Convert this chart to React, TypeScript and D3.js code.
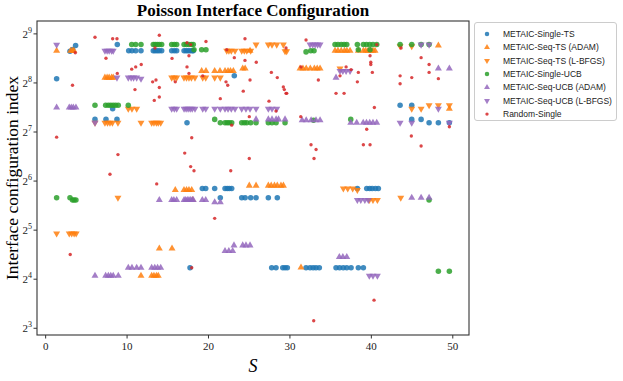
import React from "react";
import * as d3 from "d3";

type Pt = [number, number];

// [S, interface configuration index]
const singleTS: Pt[] = [
  [2.99, 401], [3.31, 410], [3.68, 434], [8.8, 440],
  [10.2, 404], [10.6, 404], [11.06, 404], [11.71, 404], [13.22, 404], [13.45, 404], [13.7, 404], [13.95, 404], [14.25, 404],
  [15.48, 404], [15.8, 404], [16.09, 404], [17.0, 404], [17.25, 404], [17.5, 404], [17.75, 404], [18.0, 404], [18.13, 404],
  [1.35, 272], [23.17, 283], [8.23, 178],
  [6.06, 153], [7.41, 153], [8.76, 153], [17.36, 146],
  [43.53, 187], [44.96, 187], [44.96, 153], [46.11, 153], [47.09, 146], [48.23, 146], [49.58, 146],
  [19.24, 57.7], [19.66, 57.7], [20.76, 57.7], [22.03, 57.7], [22.3, 57.7], [22.55, 57.7], [22.85, 57.7],
  [21.45, 50.6], [24.08, 50.6], [24.5, 50.6], [25.18, 50.6], [25.84, 50.6], [27.35, 50.6], [28.45, 50.6],
  [38.28, 57.7], [39.43, 57.7], [39.8, 57.7], [40.1, 57.7], [40.5, 57.7], [40.86, 57.7],
  [17.73, 18.8], [27.76, 18.8], [28.29, 18.8], [29.12, 18.8], [29.4, 18.8], [29.68, 18.8], [31.98, 18.8], [32.47, 18.8],
  [32.85, 18.8], [33.2, 18.8], [33.61, 18.8], [35.66, 18.8], [36.1, 18.8], [36.55, 18.8], [36.98, 18.8], [37.51, 18.8],
  [38.4, 18.8], [39.02, 18.8],
];

const seqTSAdam: Pt[] = [
  [1.35, 404], [3.07, 404], [3.3, 404], [3.48, 404],
  [7.28, 276], [7.55, 276], [7.8, 276], [8.1, 276], [8.3, 276],
  [19.16, 303], [19.69, 303], [20.76, 303], [21.41, 303], [22.03, 303], [22.4, 303], [22.7, 303], [23.05, 303], [24.2, 314], [24.5, 314],
  [31.24, 314], [31.6, 314], [32.0, 314], [32.5, 314], [33.0, 314], [33.35, 314], [33.7, 314],
  [25.1, 404], [35.54, 404], [35.9, 404], [36.3, 404], [36.7, 404], [37.0, 404], [37.38, 404], [38.4, 404], [39.02, 404],
  [39.3, 404], [39.6, 404], [39.9, 404], [40.2, 404], [40.45, 404], [48.23, 434],
  [25.01, 60], [25.84, 60], [27.35, 60], [27.7, 60], [28.1, 60], [28.45, 60], [28.9, 60], [29.2, 60],
  [15.92, 56.5], [16.99, 56.5], [17.3, 56.5], [17.6, 56.5], [17.94, 56.5], [18.06, 49],
  [13.96, 24.7], [15.52, 24.7],
  [11.71, 16.8], [13.02, 16.8], [13.3, 16.8], [13.6, 16.8], [13.83, 16.8],
  [31.36, 18.9], [49.58, 178],
];

const seqTSLbfgs: Pt[] = [
  [1.35, 30.5], [2.9, 30.5], [3.2, 30.5], [3.5, 30.5], [3.75, 30.5],
  [6.06, 146], [7.28, 146], [7.6, 146], [7.9, 146], [8.2, 146], [8.88, 146], [11.71, 146],
  [13.02, 146], [13.3, 146], [13.6, 146], [13.83, 146], [14.13, 146],
  [8.88, 50.6],
  [22.24, 404], [22.5, 404], [22.8, 404], [23.26, 404], [24.08, 404], [24.4, 404], [24.7, 404], [25.18, 404],
  [25.84, 440], [27.35, 440], [27.8, 440], [28.38, 440], [29.19, 440], [29.4, 401], [29.6, 401],
  [15.48, 276], [15.8, 276], [16.09, 276], [16.99, 276], [17.3, 276], [17.6, 276], [17.9, 276], [18.34, 276],
  [19.29, 276], [19.66, 276], [20.76, 276], [21.45, 276],
  [10.15, 178], [10.6, 178], [11.18, 178],
  [36.15, 314], [43.53, 430], [44.96, 430],
  [44.96, 178], [46.11, 178], [47.09, 187], [48.23, 187], [49.58, 187],
  [36.56, 57.7], [37.1, 57.7], [37.71, 57.7], [38.28, 56.5], [39.75, 49], [40.2, 49], [40.74, 49], [43.61, 50.6],
];

const singleUCB: Pt[] = [
  [1.35, 50.6], [2.99, 50.6], [3.3, 49], [3.5, 49], [3.72, 49],
  [6.06, 187], [7.37, 187], [7.7, 187], [8.0, 187], [8.3, 187], [8.6, 187], [8.92, 187], [10.15, 187],
  [10.57, 440], [11.06, 440], [11.71, 440], [13.22, 440], [13.45, 440], [13.7, 440], [13.95, 440], [14.25, 440],
  [15.48, 440], [15.8, 440], [16.09, 440], [17.0, 440], [17.3, 440], [17.6, 440], [17.9, 440], [18.13, 440],
  [18.22, 409], [19.16, 409], [19.69, 409],
  [20.76, 153], [21.45, 146], [22.03, 146], [22.3, 146], [22.55, 146], [22.85, 146], [24.08, 146], [24.4, 146],
  [24.7, 146], [25.18, 146], [25.84, 146], [27.35, 146], [27.8, 146], [28.3, 146], [29.4, 146], [32.9, 151], [37.47, 153],
  [31.98, 397], [32.56, 404], [32.96, 404],
  [35.54, 440], [35.9, 440], [36.3, 440], [36.65, 440], [36.98, 440], [38.28, 440], [39.02, 440], [39.4, 440],
  [39.8, 440], [40.2, 440], [40.66, 440], [38.4, 409], [39.84, 409],
  [43.53, 440], [44.96, 440], [46.11, 440], [47.09, 440],
  [47.09, 49], [48.23, 17.9], [49.58, 17.9],
];

const seqUCBAdam: Pt[] = [
  [1.35, 181], [2.9, 181], [3.15, 181], [3.4, 181], [3.72, 181],
  [6.06, 16.8], [7.37, 16.8], [7.7, 16.8], [8.0, 16.8], [8.3, 16.8], [8.92, 16.8],
  [10.15, 18.8], [10.6, 18.8], [11.18, 18.8], [11.71, 18.8], [13.02, 18.8], [13.4, 18.8], [13.75, 18.8], [14.13, 18.8],
  [13.96, 49], [15.48, 49], [15.75, 49], [16.09, 49], [17.0, 49], [17.2, 49], [17.4, 49], [17.6, 49], [17.8, 49],
  [18.0, 49], [18.13, 49], [19.24, 49], [19.66, 49], [20.76, 47.5], [21.45, 47.5],
  [22.03, 23.8], [22.5, 23.8], [22.97, 23.8], [23.13, 25.8], [24.2, 25.8], [24.6, 25.8], [25.1, 25.8],
  [36.07, 21.9], [36.5, 21.9], [36.98, 21.9],
  [48.23, 314], [49.58, 314], [35.66, 276],
  [25.84, 153], [27.35, 153], [27.8, 153], [28.3, 153], [28.6, 153], [29.4, 153],
  [31.5, 151], [32.0, 151], [32.6, 151], [33.2, 151], [33.7, 151],
  [37.47, 146], [38.2, 146], [39.0, 146], [39.4, 146], [39.8, 146], [40.2, 146], [40.66, 146],
  [44.96, 50.6], [46.11, 50.6], [47.09, 50.6],
];

const seqUCBLbfgs: Pt[] = [
  [1.35, 439],
  [7.28, 404], [7.55, 404], [7.8, 404], [8.1, 404], [8.3, 404],
  [8.76, 276], [10.15, 276], [10.5, 276], [10.8, 276], [11.18, 276], [11.71, 272],
  [6.06, 146],
  [15.48, 178], [15.8, 178], [16.09, 178], [17.0, 178], [17.25, 178], [17.5, 178], [17.75, 178], [18.0, 178], [18.34, 178],
  [19.29, 178], [19.66, 178], [20.76, 178], [21.45, 178], [22.03, 178], [22.4, 178], [22.8, 178], [23.26, 178],
  [24.08, 178], [24.6, 178], [25.1, 178], [25.84, 178], [27.35, 178], [27.8, 178], [28.38, 178],
  [32.47, 440], [32.8, 440], [33.1, 440], [33.4, 440], [33.7, 440],
  [36.15, 303], [36.5, 303], [36.9, 303], [37.38, 303],
  [46.11, 440], [47.09, 440],
  [48.23, 178], [43.53, 146], [44.96, 146], [49.58, 146],
  [38.28, 49], [38.7, 49], [39.2, 49], [39.63, 49],
  [39.75, 16.8], [40.2, 16.8], [40.74, 16.8],
];

const randomSingle: Pt[] = [
  [1.35, 119], [3.02, 22.7], [3.3, 248], [3.64, 392], [6.06, 488], [7.41, 363], [7.9, 70.5], [8.23, 478], [8.76, 478],
  [8.8, 293], [8.88, 93], [10.57, 311], [11.06, 321], [11.74, 332], [10.97, 233], [13.96, 502], [13.43, 419],
  [13.14, 260], [13.55, 267], [13.96, 240], [13.96, 210], [13.34, 200], [13.64, 61.5], [15.52, 362], [15.92, 260],
  [17.36, 452], [17.81, 440], [17.6, 376], [17.36, 321], [17.6, 293], [17.94, 118], [17.08, 95], [17.81, 78.5],
  [18.22, 74], [17.94, 18.8], [19.69, 460], [19.29, 283], [20.76, 37.8], [21.45, 205], [22.15, 260], [22.36, 248],
  [22.24, 409], [23.17, 366], [22.85, 141], [22.73, 74], [24.48, 478], [24.48, 352], [24.27, 228], [25.1, 267],
  [25.01, 159], [25.01, 88], [25.87, 343], [27.43, 198], [27.72, 297], [28.45, 276], [28.29, 172], [29.52, 419],
  [29.19, 242], [29.31, 233], [29.52, 221], [29.61, 221], [31.33, 159], [31.36, 321], [31.98, 470], [32.59, 107],
  [33.21, 100], [32.96, 88], [32.92, 8.9], [33.49, 267], [35.66, 221], [36.65, 221], [36.15, 283], [36.9, 321],
  [37.51, 309], [38.28, 260], [38.4, 297], [39.02, 107], [39.84, 107], [39.43, 133], [39.84, 376], [39.93, 343],
  [39.93, 332], [40.12, 297], [40.66, 440], [40.37, 181], [40.33, 11.9], [43.53, 283], [43.53, 253], [43.65, 419],
  [44.96, 276], [44.91, 121], [46.11, 366], [46.11, 105], [47.09, 332], [47.09, 297], [48.23, 272], [49.58, 138],
];

const seriesNames = [
  "METAIC-Single-TS",
  "METAIC-Seq-TS (ADAM)",
  "METAIC-Seq-TS (L-BFGS)",
  "METAIC-Single-UCB",
  "METAIC-Seq-UCB (ADAM)",
  "METAIC-Seq-UCB (L-BFGS)",
  "Random-Single",
];
const seriesData = [singleTS, seqTSAdam, seqTSLbfgs, singleUCB, seqUCBAdam, seqUCBLbfgs, randomSingle];
const seriesColors = ["#1f77b4", "#ff7f0e", "#ff7f0e", "#2ca02c", "#9467bd", "#9467bd", "#d62728"];
const seriesShapes = ["o", "^", "v", "o", "^", "v", "."];

const xTicks = [0, 10, 20, 30, 40, 50];
const yTickExps = [3, 4, 5, 6, 7, 8, 9];

const W = 623, H = 381;
const m = { left: 37, right: 469, top: 21, bottom: 335 };

const serif = "'Liberation Serif', 'Times New Roman', serif";
const sans = "'Liberation Sans', Arial, sans-serif";

const circlePath = d3.symbol().type(d3.symbolCircle).size(24)()!;
const triPath = d3.symbol().type(d3.symbolTriangle).size(21)()!;
const dotPath = d3.symbol().type(d3.symbolCircle).size(9)()!;
const legCircle = d3.symbol().type(d3.symbolCircle).size(16)()!;
const legTri = d3.symbol().type(d3.symbolTriangle).size(15)()!;

function marker(shape: string, color: string, x: number, y: number, key: any, small = false) {
  const path = shape === "o" ? (small ? legCircle : circlePath) : shape === "." ? dotPath : small ? legTri : triPath;
  const rot = shape === "v" ? " rotate(180)" : "";
  return <path key={key} d={path} transform={`translate(${x},${y})${rot}`} fill={color} fillOpacity={0.85} />;
}

export default function App() {
  const all = seriesData.flat();
  const [sx0, sx1] = d3.extent(all, (d) => d[0]) as [number, number];
  const xp = (sx1 - sx0) * 0.05;
  const x = d3.scaleLinear().domain([sx0 - xp, sx1 + xp]).range([m.left, m.right]);

  const [ly0, ly1] = d3.extent(all, (d) => Math.log2(d[1])) as [number, number];
  const yp = (ly1 - ly0) * 0.05;
  const y = d3.scaleLog().base(2).domain([2 ** (ly0 - yp), 2 ** (ly1 + yp)]).range([m.bottom, m.top]);

  return (
    <svg width={W} height={H} style={{ position: "absolute", left: 0, top: 0, background: "#fff" }}>
      {/* points */}
      {seriesData.map((data, i) => (
        <g key={i}>{data.map((d, j) => marker(seriesShapes[i], seriesColors[i], x(d[0]), y(d[1]), j))}</g>
      ))}

      {/* frame */}
      <rect x={m.left} y={m.top} width={m.right - m.left} height={m.bottom - m.top} fill="none" stroke="#333" strokeWidth={1.1} />

      {/* x axis */}
      {xTicks.map((t) => (
        <g key={t} transform={`translate(${x(t)},${m.bottom})`}>
          <line y2={3.5} stroke="#333" />
          <text y={15} textAnchor="middle" fontFamily={serif} fontSize={11} fill="#222">{t}</text>
        </g>
      ))}
      <text x={(m.left + m.right) / 2} y={372} textAnchor="middle" fontFamily={serif} fontStyle="italic" fontSize={18}>S</text>

      {/* y axis */}
      {yTickExps.map((e) => (
        <g key={e} transform={`translate(${m.left},${y(2 ** e)})`}>
          <line x2={-3.5} stroke="#333" />
          <text x={-5} y={4} textAnchor="end" fontFamily={serif} fontSize={11} fill="#222">
            2<tspan dy={-5} fontSize={8}>{e}</tspan>
          </text>
        </g>
      ))}
      <text transform={`translate(18,${(m.top + m.bottom) / 2}) rotate(-90)`} textAnchor="middle" fontFamily={serif} fontSize={17.5}>
        Interface configuration index
      </text>

      {/* title */}
      <text x={(m.left + m.right) / 2} y={15.5} textAnchor="middle" fontFamily={serif} fontWeight="bold" fontSize={17}>
        Poisson Interface Configuration
      </text>

      {/* legend */}
      <g>
        <rect x={474.5} y={22.5} width={142} height={98} rx={2.5} fill="#fff" fillOpacity={0.8} stroke="#ccc" />
        {seriesNames.map((name, i) => (
          <g key={name} transform={`translate(0,${34 + i * 13.35})`}>
            {marker(seriesShapes[i], seriesColors[i], 487, 0, "m", true)}
            <text x={503} y={3} fontFamily={sans} fontSize={8.5} fill="#222">{name}</text>
          </g>
        ))}
      </g>
    </svg>
  );
}
